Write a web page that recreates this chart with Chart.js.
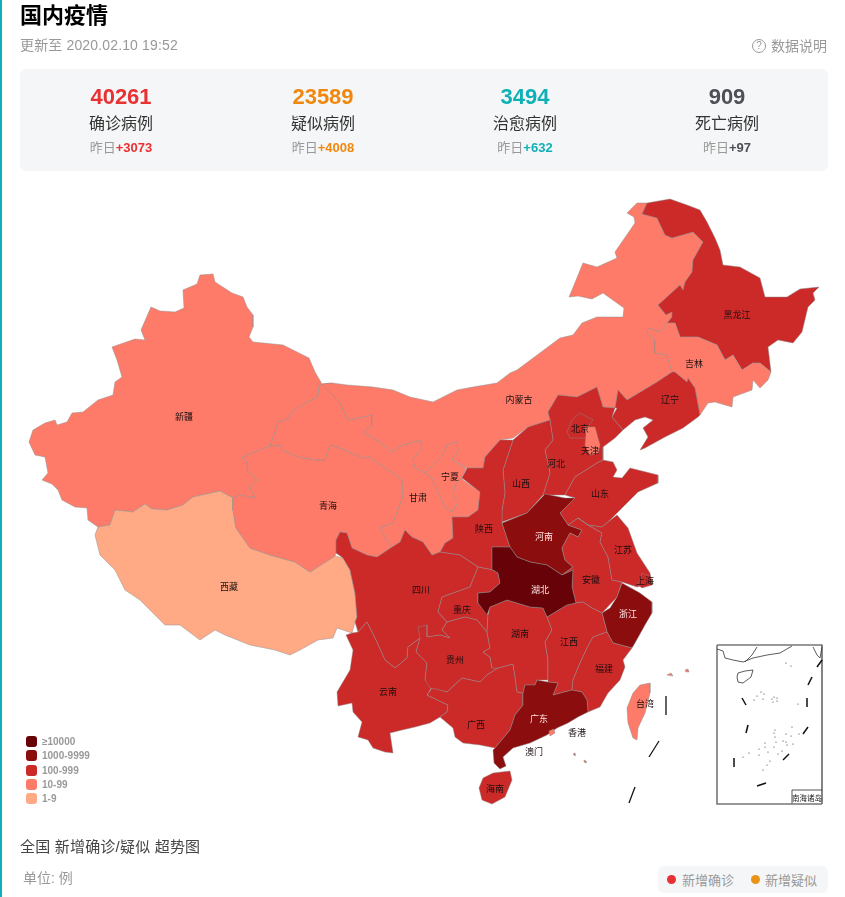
<!DOCTYPE html>
<html lang="zh">
<head>
<meta charset="utf-8">
<title>国内疫情</title>
<script src="https://cdn.jsdelivr.net/npm/chart.js@4"></script>
<style>
    html, body { margin: 0; padding: 0; width: 845px; height: 897px; overflow: hidden; background: #fff; }
    body { font-family: "Liberation Sans", "Noto Sans CJK SC", sans-serif; position: relative; }
    #bar { position: absolute; left: 0; top: 0; width: 2px; height: 897px; background: #10aeb5; }
    #map-wrap { position: absolute; left: 0; top: 0; width: 845px; height: 897px; }
    .abs { position: absolute; white-space: nowrap; line-height: 1; }
    #title { left: 20px; top: 3px; font-size: 22px; font-weight: 700; color: #000; line-height: 26px; }
    #update { left: 20px; top: 37px; font-size: 14px; color: #999; line-height: 16px; letter-spacing: 0.15px; }
    #note { left: 771px; top: 38px; font-size: 14px; color: #999; line-height: 16px; }
    #note-icon { left: 752px; top: 39px; width: 12px; height: 12px; border: 1px solid #999; border-radius: 50%; font-size: 10px; line-height: 12px; text-align: center; color: #999; }
    #panel { left: 20px; top: 69px; width: 808px; height: 102px; background: #f5f6f7; border-radius: 6px; }
    .stat { position: absolute; top: 84px; width: 200px; text-align: center; }
    .stat b { display: block; font-size: 22px; line-height: 26px; }
    .stat span { display: block; font-size: 16px; line-height: 20px; margin-top: 4px; color: #333; }
    .stat small { display: block; font-size: 13px; line-height: 16px; margin-top: 6px; color: #999; }
    .stat small i { font-style: normal; font-weight: 700; }
    .swatch { position: absolute; left: 26px; width: 11px; height: 11px; border-radius: 3px; }
    .legend-text { position: absolute; left: 42px; font-size: 10px; line-height: 12px; color: #999; font-weight: 700; white-space: nowrap; }
    #trend { left: 20px; top: 838px; font-size: 15px; line-height: 18px; color: #444; letter-spacing: 0.2px; }
    #unit { left: 23px; top: 870px; font-size: 14px; line-height: 16px; color: #999; }
    #trend-legend { left: 658px; top: 866px; width: 170px; height: 27px; background: #f5f6f7; border-radius: 6px; }
    .dot { position: absolute; top: 875px; width: 9px; height: 9px; border-radius: 50%; }
    .dot-text { position: absolute; top: 873px; font-size: 13px; line-height: 16px; color: #999; }
</style>
</head>
<body>
<div id="bar"></div>
<div id="map-wrap"><canvas id="map"></canvas></div>
<div class="abs" id="title">国内疫情</div>
<div class="abs" id="update">更新至 2020.02.10 19:52</div>
<div class="abs" id="note-icon">?</div>
<div class="abs" id="note">数据说明</div>
<div class="abs" id="panel"></div>
<div id="stats"></div>
<div id="map-legend"></div>
<div class="abs" id="trend">全国 新增确诊/疑似 超势图</div>
<div class="abs" id="unit">单位: 例</div>
<div class="abs" id="trend-legend"></div>
<div class="dot" style="left:667px;background:#e83132"></div>
<div class="dot-text" style="left:682px">新增确诊</div>
<div class="dot" style="left:751px;background:#ec9217"></div>
<div class="dot-text" style="left:765px">新增疑似</div>

<script>
// Kennzahlen
const statLabels = ["确诊病例", "疑似病例", "治愈病例", "死亡病例"];
const statValues = [40261, 23589, 3494, 909];
const statDeltas = [3073, 4008, 632, 97];
const statColors = ["#e83132", "#f0880f", "#0fb0b6", "#4e5058"];

// Legende
const bucketLabels = ["≥10000", "1000-9999", "100-999", "10-99", "1-9"];
const bucketColors = ["#660208", "#8c0d0d", "#cc2929", "#ff7b69", "#ffaa85"];

// Umrisse der Provinzen
const xinjiang = [[200,275],[213,274],[215,282],[232,293],[243,297],[247,307],[253,315],[253,327],[249,337],[253,342],[283,345],[297,352],[309,358],[315,372],[322,384],[319,386],[318,397],[307,402],[292,412],[288,419],[278,422],[275,433],[270,446],[247,455],[242,458],[247,462],[248,470],[257,480],[250,487],[255,498],[240,495],[233,498],[220,491],[193,497],[183,505],[167,510],[152,509],[145,504],[133,512],[115,510],[110,525],[98,527],[88,520],[87,508],[75,507],[62,500],[58,490],[52,484],[42,480],[48,473],[45,457],[35,455],[29,442],[33,430],[45,423],[55,420],[57,425],[67,422],[72,413],[83,412],[98,400],[113,395],[115,382],[122,377],[117,360],[112,347],[135,339],[145,340],[141,330],[151,307],[160,311],[175,312],[184,308],[183,290],[197,284]];
const tibet = [[98,527],[110,525],[115,510],[133,512],[145,504],[152,509],[167,510],[183,505],[193,497],[220,491],[233,498],[233,510],[236,528],[250,548],[270,555],[295,562],[310,572],[335,556],[343,558],[350,570],[355,593],[357,617],[355,622],[352,633],[337,628],[333,638],[318,640],[300,650],[290,655],[275,650],[250,645],[225,635],[215,630],[200,640],[180,625],[165,625],[140,600],[125,590],[115,570],[100,555],[95,535]];
const qinghai = [[242,458],[247,455],[270,446],[280,445],[282,450],[298,457],[317,460],[325,460],[330,445],[345,450],[363,458],[370,457],[402,480],[403,497],[398,510],[393,523],[380,528],[387,540],[392,547],[377,557],[367,555],[352,548],[347,533],[340,532],[336,540],[336,553],[335,556],[310,572],[295,562],[270,555],[250,548],[236,528],[233,510],[233,498],[240,495],[255,498],[250,487],[257,480],[248,470],[247,462]];
const gansu = [[270,446],[275,433],[278,422],[288,419],[292,412],[307,402],[318,397],[319,386],[322,384],[332,383],[340,403],[348,420],[372,415],[372,425],[363,432],[380,442],[392,452],[402,445],[420,440],[422,448],[413,460],[415,468],[425,473],[432,478],[438,492],[445,507],[452,512],[458,502],[453,495],[455,485],[462,478],[463,480],[480,492],[478,510],[468,517],[452,517],[453,538],[445,543],[440,552],[432,555],[423,542],[412,537],[405,530],[400,542],[392,547],[387,540],[380,528],[393,523],[398,510],[403,497],[402,480],[370,457],[363,458],[345,450],[330,445],[325,460],[317,460],[298,457],[282,450],[280,445]];
const ningxia = [[425,473],[443,455],[447,445],[457,442],[458,450],[452,460],[466,468],[462,478],[455,485],[453,495],[458,502],[452,512],[445,507],[438,492],[432,478]];
const innerMongolia = [[322,384],[332,383],[347,385],[373,387],[393,390],[410,397],[433,402],[457,390],[473,387],[497,383],[510,373],[517,370],[560,338],[573,335],[582,323],[597,317],[623,317],[624,308],[603,293],[592,299],[578,296],[569,297],[572,290],[583,263],[597,267],[617,258],[615,252],[635,223],[634,217],[627,213],[637,203],[647,203],[642,214],[657,218],[665,235],[672,238],[693,232],[703,242],[693,260],[692,272],[685,282],[683,290],[680,285],[658,305],[666,315],[672,312],[672,317],[667,323],[660,332],[648,328],[647,333],[655,340],[655,353],[667,355],[672,372],[657,382],[627,400],[618,390],[615,408],[603,407],[597,387],[587,392],[577,397],[558,395],[548,412],[550,420],[528,427],[513,438],[500,440],[485,457],[483,468],[467,468],[452,460],[458,450],[457,442],[447,445],[443,455],[425,473],[415,468],[413,460],[422,448],[420,440],[402,445],[392,452],[380,442],[363,432],[372,425],[372,415],[348,420],[340,403]];
const heilongjiang = [[647,203],[670,199],[687,205],[700,210],[707,222],[715,238],[720,250],[723,265],[740,267],[760,278],[765,297],[787,297],[800,289],[819,287],[813,293],[815,300],[808,307],[802,332],[793,343],[778,340],[768,347],[771,372],[760,363],[753,363],[742,370],[733,355],[725,360],[717,345],[698,337],[680,337],[675,323],[667,323],[672,317],[672,312],[666,315],[658,305],[680,285],[683,290],[685,282],[692,272],[693,260],[703,242],[693,232],[672,238],[665,235],[657,218],[642,214]];
const jilin = [[667,323],[675,323],[680,337],[698,337],[717,345],[725,360],[733,355],[742,370],[753,363],[760,363],[771,372],[768,380],[760,388],[753,380],[752,390],[733,397],[732,407],[715,402],[708,403],[700,415],[695,388],[688,378],[687,382],[675,372],[672,372],[667,355],[655,353],[655,340],[647,333],[648,328],[660,332]];
const liaoning = [[672,372],[675,372],[687,382],[688,378],[695,388],[700,415],[698,417],[683,428],[665,437],[645,448],[640,450],[648,437],[643,428],[653,420],[645,417],[635,420],[623,430],[612,417],[617,408],[615,408],[618,390],[627,400],[657,382]];
const hebei = [[597,387],[603,407],[615,408],[612,417],[623,430],[615,438],[603,447],[603,460],[597,463],[575,477],[565,495],[543,495],[550,473],[545,450],[553,440],[550,420],[548,412],[558,395],[577,397],[587,392]];
const beijing = [[580,413],[593,420],[587,428],[588,438],[570,438],[567,432],[572,420]];
const tianjin = [[585,427],[595,427],[600,445],[598,453],[590,455],[585,445],[586,435]];
const shanxi = [[550,420],[553,440],[545,450],[550,473],[543,495],[527,513],[502,522],[502,510],[505,493],[503,470],[513,440],[528,427]];
const shaanxi = [[513,440],[500,440],[485,457],[483,468],[467,468],[462,478],[480,492],[478,510],[468,517],[452,517],[453,538],[445,543],[440,552],[460,555],[478,567],[493,570],[492,547],[510,547],[502,523],[502,510],[505,493],[503,470]];
const shandong = [[597,463],[603,460],[613,462],[617,470],[613,477],[622,478],[630,468],[658,475],[658,483],[638,492],[632,498],[617,513],[608,522],[602,527],[588,525],[578,518],[568,525],[560,513],[575,498],[565,495],[575,477]];
const henan = [[502,523],[527,513],[545,494],[565,498],[575,498],[560,513],[568,525],[582,530],[578,537],[570,533],[562,548],[565,560],[573,567],[562,575],[547,565],[530,562],[517,557],[510,547]];
const hubei = [[492,547],[510,547],[517,557],[530,562],[547,565],[562,575],[573,570],[572,587],[576,603],[567,605],[547,617],[543,608],[530,607],[507,600],[490,607],[487,615],[478,603],[478,593],[490,592],[500,583],[498,573],[493,570]];
const anhui = [[578,518],[588,525],[602,533],[600,542],[608,557],[612,580],[622,582],[617,597],[602,613],[592,608],[583,602],[576,603],[572,587],[573,570],[562,575],[573,567],[565,560],[562,548],[570,533],[578,537],[582,530],[568,525]];
const jiangsu = [[617,515],[628,528],[637,553],[650,573],[652,583],[637,587],[622,582],[612,580],[608,557],[600,542],[602,533],[588,525],[578,518],[588,525],[602,527],[608,522]];
const shanghai = [[642,573],[651,577],[652,585],[642,588],[638,585]];
const zhejiang = [[622,583],[640,593],[652,602],[652,613],[645,625],[635,643],[632,648],[613,643],[607,632],[602,613],[610,608],[617,597]];
const sichuan = [[340,532],[347,533],[352,548],[367,555],[377,557],[392,547],[400,542],[405,530],[412,537],[423,542],[432,555],[440,552],[460,555],[478,567],[470,587],[442,597],[438,612],[447,622],[442,630],[450,638],[440,635],[427,637],[420,638],[408,647],[407,658],[395,668],[385,660],[375,638],[367,622],[358,632],[355,622],[357,617],[355,593],[350,570],[343,558],[336,553],[336,540]];
const chongqing = [[478,567],[493,570],[498,573],[500,583],[490,592],[478,593],[478,603],[488,615],[487,632],[477,620],[465,617],[447,622],[438,612],[442,597],[470,587]];
const yunnan = [[358,632],[367,622],[375,638],[385,660],[395,668],[407,658],[408,647],[420,638],[416,652],[427,663],[425,680],[432,687],[427,695],[448,705],[447,712],[440,717],[430,723],[415,727],[402,730],[390,733],[393,753],[385,752],[373,748],[368,740],[358,737],[362,722],[353,712],[352,703],[338,706],[337,692],[350,670],[353,650],[346,635],[352,633]];
const guizhou = [[447,622],[465,617],[477,620],[487,632],[490,648],[483,652],[490,657],[492,668],[498,668],[487,675],[480,682],[462,678],[447,692],[430,688],[425,680],[427,663],[416,652],[420,638],[418,627],[427,625],[427,637],[440,635],[450,638],[442,630]];
const guangxi = [[432,688],[447,692],[462,678],[480,682],[487,675],[498,668],[513,664],[515,677],[517,692],[523,693],[523,705],[515,715],[510,730],[495,748],[480,745],[463,743],[455,737],[453,728],[440,717],[447,712],[448,705],[427,695]];
const hunan = [[488,615],[490,607],[507,600],[530,607],[543,608],[547,617],[552,630],[545,642],[548,660],[548,680],[537,680],[535,685],[525,685],[523,693],[517,692],[515,677],[513,664],[498,668],[492,668],[490,657],[483,652],[490,648],[487,632]];
const jiangxi = [[547,617],[567,605],[576,603],[583,602],[592,608],[602,613],[607,632],[593,637],[587,648],[580,663],[573,680],[572,690],[553,695],[558,683],[548,682],[548,660],[545,642],[552,630]];
const fujian = [[607,632],[613,643],[632,648],[623,660],[625,667],[620,680],[608,693],[600,707],[588,712],[587,700],[582,692],[572,690],[573,680],[580,663],[587,648],[593,637]];
const guangdong = [[523,693],[525,685],[535,685],[537,680],[548,682],[558,683],[553,695],[572,690],[582,692],[587,700],[588,712],[578,717],[568,723],[557,728],[547,735],[530,743],[513,748],[503,757],[506,766],[500,769],[494,763],[493,750],[495,748],[510,730],[515,715],[523,705]];
const hainan = [[493,773],[510,771],[512,780],[505,797],[492,804],[482,800],[479,788],[483,778]];
const taiwan = [[640,685],[650,683],[650,693],[645,713],[638,728],[637,740],[633,738],[628,723],[627,708],[633,693]];
const hongkong = [[549,731],[554,729],[555,733],[550,736]];
const islandA = [[667,675],[671,673],[673,676]];
const islandB = [[685,670],[688,669],[689,672],[686,672]];
const islandC = [[573,754],[575,753],[575,756]];
const islandD = [[584,760],[586,761],[586,763],[584,762]];

const provinceShapes = [xinjiang, tibet, qinghai, gansu, innerMongolia, ningxia, heilongjiang, jilin, liaoning, hebei, beijing, tianjin, shanxi, shaanxi, shandong, henan, anhui, jiangsu, shanghai, zhejiang, sichuan, chongqing, yunnan, guizhou, guangxi, hunan, jiangxi, fujian, hubei, guangdong, hainan, taiwan, hongkong, islandA, islandB, islandC, islandD];
const provinceBuckets = ["10-99", "1-9", "10-99", "10-99", "10-99", "10-99", "100-999", "10-99", "100-999", "100-999", "100-999", "10-99", "100-999", "100-999", "100-999", "1000-9999", "100-999", "100-999", "100-999", "1000-9999", "100-999", "100-999", "100-999", "100-999", "100-999", "100-999", "100-999", "100-999", "≥10000", "1000-9999", "100-999", "10-99", "10-99", "10-99", "10-99", "10-99", "10-99"];

// Beschriftungen
const labelNames = ["新疆", "青海", "西藏", "甘肃", "宁夏", "内蒙古", "黑龙江", "吉林", "辽宁", "北京", "天津", "河北", "山西", "山东", "陕西", "河南", "江苏", "安徽", "上海", "湖北", "浙江", "四川", "重庆", "湖南", "江西", "福建", "贵州", "云南", "广西", "广东", "台湾", "香港", "澳门", "海南"];
const labelX = [184, 328, 229, 418, 450, 519, 737, 694, 670, 580, 590, 556, 521, 600, 484, 544, 623, 591, 645, 540, 628, 421, 462, 520, 569, 604, 455, 388, 476, 539, 645, 577, 534, 495];
const labelY = [417, 506, 587, 498, 477, 400, 315, 364, 400, 429, 451, 464, 484, 494, 529, 537, 550, 580, 581, 590, 614, 590, 610, 634, 642, 669, 660, 692, 725, 719, 704, 733, 752, 789];
const lightLabels = ["河南", "湖北", "浙江", "广东"];

// Striche im Suedchinesischen Meer und Nebenkarte
const seaDashes = [[[666,696],[666,715]], [[659,741],[649,757]], [[635,787],[629,803]]];
const insetDashes = [[[822,660],[817,667]], [[812,677],[808,685]], [[807,698],[807,707]], [[808,727],[803,734]], [[789,754],[783,760]], [[766,783],[757,786]], [[734,758],[734,767]], [[748,725],[746,733]], [[742,698],[746,705]]];
const insetCoast = [[[717,649],[723,651],[725,658],[733,660],[743,662],[753,658],[767,655],[780,653],[792,646]], [[757,647],[752,655],[745,662]], [[813,647],[817,655],[820,658],[822,647]], [[738,673],[745,671],[753,670],[751,677],[743,683],[738,682],[737,677],[738,673]]];
const insetDots = [[757,696],[761,692],[764,694],[754,700],[763,699],[772,699],[774,697],[777,698],[773,702],[777,701],[798,704],[786,663],[791,666],[775,730],[774,733],[775,737],[776,742],[765,743],[783,741],[786,734],[791,736],[792,727],[799,734],[786,742],[787,745],[793,744],[774,747],[765,747],[759,749],[768,752],[782,751],[778,754],[749,753],[743,757],[759,755],[770,761],[767,765],[763,770]];
const insetFrameDark = [[717,645],[822,645],[822,804]];
const insetFrameGrey = [[717,645],[717,804],[822,804]];
const insetTagBox = [[792,804],[792,790],[822,790]];
const insetTagName = "南海诸岛";
const insetTagPoint = [807, 798];


function toPoints(list) {
    /*
        Wandelt [x, y] Paare in Punkte um, die Chart.js lesen kann.
     */
    return list.map(function (p) {
        return {x: p[0], y: p[1]};
    });
}

function createShape(outline, color, order) {
    /*
        Erstellt ein gefuelltes, geschlossenes Dataset fuer eine Provinz.
     */
    return {
        data: toPoints(outline.concat([outline[0]])),
        showLine: true,
        fill: 'shape',
        backgroundColor: color,
        borderColor: 'rgba(140,140,140,0.6)',
        borderWidth: 0.8,
        pointRadius: 0,
        tension: 0,
        order: order
    };
}

function createStroke(list, color, width) {
    return {
        data: toPoints(list),
        showLine: true,
        fill: false,
        borderColor: color,
        borderWidth: width,
        pointRadius: 0,
        tension: 0,
        order: -100
    };
}

const mapLabels = {
    id: 'mapLabels',
    afterDatasetsDraw: function (chart) {
        let ctx = chart.ctx;
        let xs = chart.scales.x;
        let ys = chart.scales.y;
        ctx.save();
        ctx.textAlign = 'center';
        ctx.textBaseline = 'middle';
        ctx.font = '9px "Noto Sans CJK SC"';
        for (let i = 0; i < labelNames.length; i++) {
            ctx.fillStyle = lightLabels.includes(labelNames[i]) ? '#ffe4e4' : '#1c1010';
            ctx.fillText(labelNames[i], xs.getPixelForValue(labelX[i]), ys.getPixelForValue(labelY[i]));
        }
        ctx.font = '7.5px "Noto Sans CJK SC"';
        ctx.fillStyle = '#222';
        ctx.fillText(insetTagName, xs.getPixelForValue(insetTagPoint[0]), ys.getPixelForValue(insetTagPoint[1]));
        ctx.restore();
    }
};

function buildStats() {
    /*
        Kennzahlen oben im grauen Kasten.
     */
    let html = '';
    let centers = [121, 323, 525, 727];
    for (let i = 0; i < statLabels.length; i++) {
        html += '<div class="stat" style="left:' + (centers[i] - 100) + 'px"><b style="color:' + statColors[i] + '">' + statValues[i] + '</b>'
            + '<span>' + statLabels[i] + '</span>'
            + '<small>昨日<i style="color:' + statColors[i] + '">+' + statDeltas[i] + '</i></small></div>';
    }
    document.getElementById('stats').innerHTML = html;
}

function buildLegend() {
    let html = '';
    let tops = [736, 750, 765, 779, 793];
    for (let i = 0; i < bucketLabels.length; i++) {
        html += '<div class="swatch" style="top:' + tops[i] + 'px;background:' + bucketColors[i] + '"></div>'
            + '<div class="legend-text" style="top:' + tops[i] + 'px">' + bucketLabels[i] + '</div>';
    }
    document.getElementById('map-legend').innerHTML = html;
}

function buildMap() {
    let datasets = [];

    // Niedrigere order wird zuletzt gezeichnet, spaetere Provinzen liegen also oben
    for (let i = 0; i < provinceShapes.length; i++) {
        let color = bucketColors[bucketLabels.indexOf(provinceBuckets[i])];
        datasets.push(createShape(provinceShapes[i], color, -i));
    }
    for (let i = 0; i < seaDashes.length; i++) datasets.push(createStroke(seaDashes[i], '#111', 1.3));
    for (let i = 0; i < insetDashes.length; i++) datasets.push(createStroke(insetDashes[i], '#111', 1.5));
    for (let i = 0; i < insetCoast.length; i++) datasets.push(createStroke(insetCoast[i], '#333', 0.8));
    datasets.push(createStroke(insetFrameGrey, '#777', 1.6));
    datasets.push(createStroke(insetFrameDark, '#333', 1.2));
    datasets.push(createStroke(insetTagBox, '#555', 1));
    datasets.push({data: toPoints(insetDots), showLine: false, pointRadius: 0.6, pointBackgroundColor: '#333', pointBorderWidth: 0, order: -100});

    new Chart(document.getElementById('map').getContext('2d'), {
        type: 'scatter',
        data: {datasets: datasets},
        plugins: [mapLabels],
        options: {
            responsive: true,
            maintainAspectRatio: false,
            animation: false,
            layout: {padding: 0, autoPadding: false},
            events: [],
            plugins: {legend: {display: false}, tooltip: {enabled: false}},
            scales: {
                x: {type: 'linear', min: 0, max: 845, display: false},
                y: {type: 'linear', min: 0, max: 897, reverse: true, display: false}
            }
        }
    });
}

buildStats();
buildLegend();
buildMap();
</script>
</body>
</html>
